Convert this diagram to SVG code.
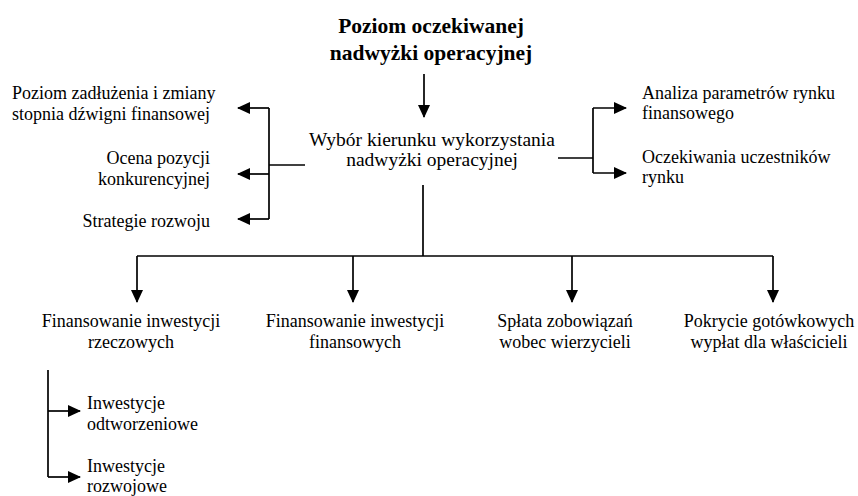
<svg xmlns="http://www.w3.org/2000/svg" width="858" height="496" viewBox="0 0 858 496">
<style>
text{font-family:"Liberation Serif","Times New Roman",serif;font-size:18px;fill:#000}
.t{font-size:21.5px;font-weight:bold}
.c{font-size:19.5px}
.m{text-anchor:middle}
.e{text-anchor:end}
.ln{stroke:#000;stroke-width:1.7;fill:none}
</style>
<defs>
<marker id="ah" viewBox="0 0 13 12" refX="12" refY="6" markerWidth="13" markerHeight="12" markerUnits="userSpaceOnUse" orient="auto">
<path d="M0,0 L13,6 L0,12 Z" fill="#000"/>
</marker>
</defs>
<rect width="858" height="496" fill="#fff"/>
<g id="connectors">
<path class="ln" d="M424,74 V117" marker-end="url(#ah)"/>
<path class="ln" d="M305,165 H269"/>
<path class="ln" d="M269,108 V219"/>
<path class="ln" d="M269,108 H238" marker-end="url(#ah)"/>
<path class="ln" d="M269,174 H238" marker-end="url(#ah)"/>
<path class="ln" d="M269,219 H238" marker-end="url(#ah)"/>
<path class="ln" d="M558,158 H593"/>
<path class="ln" d="M593,108 V173"/>
<path class="ln" d="M593,108 H626" marker-end="url(#ah)"/>
<path class="ln" d="M593,173 H626" marker-end="url(#ah)"/>
<path class="ln" d="M423,185 V256"/>
<path class="ln" d="M137,256 H773"/>
<path class="ln" d="M137,256 V302" marker-end="url(#ah)"/>
<path class="ln" d="M353,256 V302" marker-end="url(#ah)"/>
<path class="ln" d="M572,256 V302" marker-end="url(#ah)"/>
<path class="ln" d="M773,256 V302" marker-end="url(#ah)"/>
<path class="ln" d="M48,370 V477"/>
<path class="ln" d="M48,411 H80" marker-end="url(#ah)"/>
<path class="ln" d="M48,477 H80" marker-end="url(#ah)"/>
</g>
<g id="n-title"><text class="t m" x="431" y="33">Poziom oczekiwanej</text><text class="t m" x="431" y="60">nadwyżki operacyjnej</text></g>
<g id="n-center"><text class="c m" x="432" y="146">Wybór kierunku wykorzystania</text><text class="c m" x="432" y="166">nadwyżki operacyjnej</text></g>
<g id="n-zadluzenie"><text x="12" y="99">Poziom zadłużenia i zmiany</text><text x="12" y="120">stopnia dźwigni finansowej</text></g>
<g id="n-ocena"><text class="e" x="210" y="164">Ocena pozycji</text><text class="e" x="210" y="185">konkurencyjnej</text></g>
<g id="n-strategie"><text class="e" x="210" y="227">Strategie rozwoju</text></g>
<g id="n-analiza"><text x="642" y="99">Analiza parametrów rynku</text><text x="642" y="119">finansowego</text></g>
<g id="n-oczekiwania"><text x="642" y="163">Oczekiwania uczestników</text><text x="642" y="183">rynku</text></g>
<g id="n-rzeczowe"><text class="m" x="131" y="327">Finansowanie inwestycji</text><text class="m" x="131" y="348">rzeczowych</text></g>
<g id="n-finansowe"><text class="m" x="355" y="327">Finansowanie inwestycji</text><text class="m" x="355" y="348">finansowych</text></g>
<g id="n-splata"><text class="m" x="565" y="327">Spłata zobowiązań</text><text class="m" x="565" y="348">wobec wierzycieli</text></g>
<g id="n-pokrycie"><text class="m" x="769" y="327">Pokrycie gotówkowych</text><text class="m" x="769" y="348">wypłat dla właścicieli</text></g>
<g id="n-odtworzeniowe"><text x="87" y="409">Inwestycje</text><text x="87" y="430">odtworzeniowe</text></g>
<g id="n-rozwojowe"><text x="87" y="472">Inwestycje</text><text x="87" y="492">rozwojowe</text></g>
</svg>
